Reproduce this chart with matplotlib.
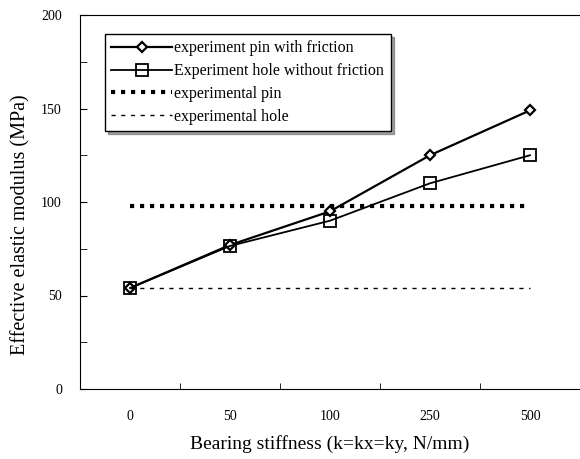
import numpy as np
import matplotlib.pyplot as plt
from matplotlib.ticker import MultipleLocator, FixedLocator

plt.rcParams['font.family'] = ['Liberation Serif', 'DejaVu Serif']

# data
stiffness = ['0', '50', '100', '250', '500']
pin_friction = [54, 77, 95, 125, 149]
hole_no_friction = [54, 76.5, 90, 110, 125]
exp_pin = 98
exp_hole = 54

x = np.arange(len(stiffness))

fig = plt.figure(figsize=(5.8, 4.59), dpi=100)
ax = fig.add_axes([80/580, 70/459, 500/580, 374/459])

ax.plot(x, pin_friction, color='black', lw=1.6, marker='D', ms=5,
        mfc='white', mec='black', mew=1.6, label='experiment pin with friction')
ax.plot(x, hole_no_friction, color='black', lw=1.3, marker='s', ms=9,
        mfc='none', mec='black', mew=1.3, label='Experiment hole without friction')
ax.plot(x, [exp_pin] * len(x), color='black', lw=3, ls=(0, (1, 1.4)),
        label='experimental pin')
ax.plot(x, [exp_hole] * len(x), color='black', lw=1, ls=(0, (3, 4)),
        label='experimental hole')

ax.set_xlim(-0.5, 4.5)
ax.set_ylim(0, 200)

ax.xaxis.set_major_locator(FixedLocator(x))
ax.xaxis.set_minor_locator(FixedLocator([0.5, 1.5, 2.5, 3.5]))
ax.set_xticklabels(stiffness)
ax.yaxis.set_major_locator(MultipleLocator(50))
ax.yaxis.set_minor_locator(MultipleLocator(25))

ax.tick_params(axis='x', which='major', length=0, pad=15, labelsize=10)
ax.tick_params(axis='x', which='minor', direction='in', length=4)
ax.tick_params(axis='y', which='both', direction='in', length=5, pad=13,
               labelsize=10)
ax.spines['right'].set_visible(False)

ax.set_xlabel('Bearing stiffness (k=kx=ky, N/mm)', fontsize=14, labelpad=9)
ax.set_ylabel('Effective elastic modulus (MPa)', fontsize=14.5)
ax.yaxis.set_label_coords(-0.1, 0.44)

leg = ax.legend(loc='upper left', bbox_to_anchor=(25/500, 1 - 19/374),
                borderaxespad=0, fontsize=11.5, frameon=True, fancybox=False,
                shadow=True, handlelength=3.8, borderpad=0.4,
                labelspacing=0.42, handletextpad=0.15)
leg.get_frame().set_edgecolor('black')
leg.get_frame().set_linewidth(1)

fig.savefig('out.png', dpi=100)
